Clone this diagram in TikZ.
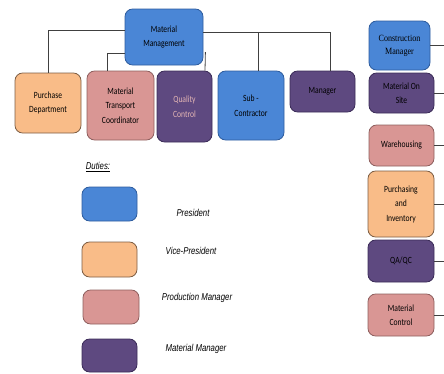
\documentclass[tikz,border=0pt]{standalone}
\usepackage{fontspec}
\setmainfont{Carlito}[FakeStretch=0.8]
\newfontfamily\cmfont{Liberation Serif}[FakeStretch=0.85]
\newfontfamily\dutyfont{Liberation Sans}[FakeStretch=0.78]
\usepackage{tikz}
\usetikzlibrary{positioning}
\usetikzlibrary{calc}
\definecolor{presblue}{HTML}{4A86D6}
\definecolor{presline}{HTML}{2E5C9E}
\definecolor{vpfill}{HTML}{F9BC88}
\definecolor{vpline}{HTML}{7E5E44}
\definecolor{prodfill}{HTML}{D99694}
\definecolor{prodline}{HTML}{8E5F5E}
\definecolor{matfill}{HTML}{5E4980}
\definecolor{matline}{HTML}{3B2C58}
\definecolor{wire}{HTML}{404040}
\tikzset{every picture/.style={line width=0.8pt}}

\begin{document}
\begin{tikzpicture}[x=1pt, y=-1pt,
  box/.style={draw, rounded corners=1.6ex, align=center, inner sep=1pt,
    font=\fontsize{9.5}{14.5}\selectfont},
  pres/.style={box, fill=presblue, draw=presline},
  vp/.style={box, fill=vpfill, draw=vpline},
  prod/.style={box, fill=prodfill, draw=prodline},
  mat/.style={box, fill=matfill, draw=matline},
  duty/.style={font=\dutyfont\itshape\fontsize{10}{12}\selectfont}]
\useasboundingbox (0,0) rectangle (444,373);

\node (mm) at (164,37) [pres, minimum width=78pt, minimum height=56pt] {Material\\Management};

\node (pd) at (48,103) [vp, minimum width=66pt, minimum height=60pt] {Purchase\\Department};
\node (mtc) at (120.5,105.5) [prod, minimum width=67pt, minimum height=69pt] {Material\\Transport\\Coordinator};
\node (qc) at (184.5,106.5) [mat, minimum width=55pt, minimum height=71pt, text=prodfill!70!white] {Quality\\Control};
\node (sc) at (251,105.5) [pres, minimum width=66pt, minimum height=69pt] {Sub -\\Contractor};
\node (mgr) at (322.5,91.5) [mat, minimum width=65pt, minimum height=41pt] {Manager};

\node (cm) at (399.5,45.5) [pres, minimum width=61pt, minimum height=49pt, font=\cmfont\fontsize{9.5}{13}\selectfont] {Construction\\Manager};
\node (mos) at (401.5,93) [mat, minimum width=65pt, minimum height=40pt] {Material On\\Site};
\node (wh) at (401.5,145.5) [prod, minimum width=65pt, minimum height=41pt] {Warehousing};
\node (pi) at (401,204) [vp, minimum width=66pt, minimum height=66pt] {Purchasing\\and\\Inventory};
\node (qa) at (401,261) [mat, minimum width=66pt, minimum height=42pt] {QA/QC};
\node (mc) at (401,315) [prod, minimum width=66pt, minimum height=42pt] {Material\\Control};

% duties legend
\node (duties) at (98,167) [duty] {\underline{Duties:}};
\node (l1) at (109.5,204) [pres, minimum width=55pt, minimum height=34pt] {};
\node (l2) at (109.5,259.5) [vp, minimum width=55pt, minimum height=35pt] {};
\node (l3) at (111,307) [prod, minimum width=56pt, minimum height=34pt] {};
\node (l4) at (109.5,355.5) [mat, minimum width=55pt, minimum height=33pt] {};
\node (t1) at (193,213) [duty] {President};
\node (t2) at (191,251) [duty] {Vice-President};
\node (t3) at (197,298) [duty] {Production Manager};
\node (t4) at (196,349) [duty] {Material Manager};

\draw [-, wire] ([yshift=7pt]mm.west) -| (pd.north);
\draw [-, wire] ([xshift=-13.5pt]mtc.north) |- ([yshift=-16pt]mm.west);
\draw [-, wire] ([xshift=2pt,yshift=-15pt]mm.east) -- ([xshift=20.5pt]qc.north);
\draw [-, wire] ([yshift=5pt]mm.east) -| ([xshift=7.5pt]mgr.north);
\draw [-, wire] ([xshift=7pt]sc.north) |- ([yshift=5pt]mm.east);

\coordinate (edge) at (444,0);
\foreach \n in {cm,mos,wh,pi,qa,mc}
  \draw [-, wire] (\n.east) -- (\n.east -| edge);
\end{tikzpicture}
\end{document}
